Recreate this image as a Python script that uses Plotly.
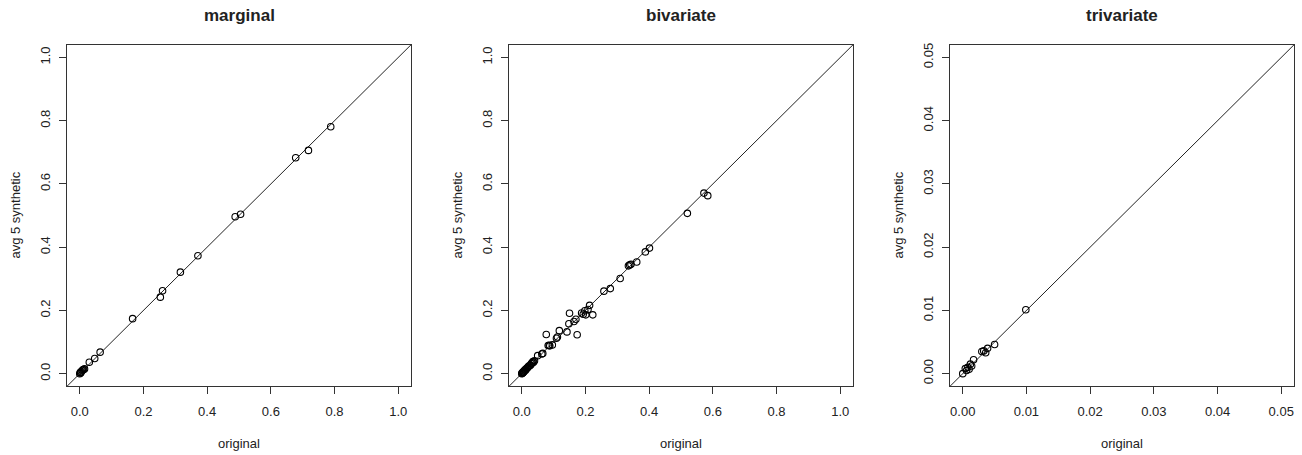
import plotly.graph_objects as go

# ---- data ----
marg_orig = [0.000, 0.002, 0.003, 0.005, 0.008, 0.010, 0.012, 0.015, 0.030, 0.047, 0.064,
             0.166, 0.253, 0.260, 0.316, 0.371, 0.488, 0.505, 0.678, 0.718, 0.788]
marg_syn = [0.000, 0.004, 0.002, 0.007, 0.010, 0.012, 0.013, 0.015, 0.036, 0.048, 0.068,
            0.174, 0.242, 0.262, 0.321, 0.373, 0.496, 0.504, 0.683, 0.706, 0.781]

biv_orig = [0.000, 0.001, 0.002, 0.003, 0.004, 0.005, 0.006, 0.007, 0.009, 0.010, 0.012,
            0.014, 0.016, 0.018, 0.020, 0.022, 0.025, 0.028, 0.030, 0.033, 0.035, 0.037,
            0.040, 0.050, 0.063, 0.066, 0.077, 0.083, 0.086, 0.088, 0.096, 0.109, 0.112,
            0.118, 0.142, 0.148, 0.150, 0.164, 0.170, 0.174, 0.188, 0.193, 0.198, 0.201,
            0.208, 0.213, 0.223, 0.258, 0.278, 0.309, 0.335, 0.339, 0.343, 0.361, 0.388,
            0.401, 0.520, 0.572, 0.584]
biv_syn = [0.000, 0.002, 0.001, 0.004, 0.003, 0.006, 0.005, 0.008, 0.009, 0.012, 0.011,
           0.015, 0.017, 0.019, 0.021, 0.024, 0.025, 0.027, 0.032, 0.034, 0.038, 0.036,
           0.041, 0.057, 0.062, 0.064, 0.124, 0.089, 0.090, 0.088, 0.091, 0.112, 0.116,
           0.136, 0.132, 0.158, 0.191, 0.165, 0.172, 0.123, 0.192, 0.188, 0.199, 0.186,
           0.203, 0.216, 0.186, 0.261, 0.269, 0.301, 0.341, 0.344, 0.346, 0.353, 0.385,
           0.397, 0.507, 0.571, 0.563]

tri_orig = [0.0000, 0.0004, 0.0006, 0.0008, 0.0010, 0.0012, 0.0014, 0.0017, 0.0030,
            0.0033, 0.0036, 0.0039, 0.0050, 0.0099]
tri_syn = [0.0000, 0.0008, 0.0005, 0.0010, 0.0007, 0.0015, 0.0012, 0.0022, 0.0035,
           0.0036, 0.0033, 0.0040, 0.0046, 0.0101]

titles = ["marginal", "bivariate", "trivariate"]
limits = [1.0, 1.0, 0.05]
tick_vals = [[0, 0.2, 0.4, 0.6, 0.8, 1.0], [0, 0.2, 0.4, 0.6, 0.8, 1.0],
             [0, 0.01, 0.02, 0.03, 0.04, 0.05]]
tick_text = [["0.0", "0.2", "0.4", "0.6", "0.8", "1.0"],
             ["0.0", "0.2", "0.4", "0.6", "0.8", "1.0"],
             ["0.00", "0.01", "0.02", "0.03", "0.04", "0.05"]]
x_label = "original"
y_label = "avg 5 synthetic"

W, H = 1302, 455
box_left = [67, 509, 950]
box_w = 344
box_top, box_bot = 43, 386

FONT = "Liberation Sans, Arial, sans-serif"
TXT = "#222222"

fig = go.Figure()
series = [(marg_orig, marg_syn), (biv_orig, biv_syn), (tri_orig, tri_syn)]
for i, (xo, ys) in enumerate(series):
    ax = "" if i == 0 else str(i + 1)
    lim = limits[i]
    lo, hi = -0.04 * lim, 1.04 * lim
    fig.add_trace(go.Scatter(x=[lo, hi], y=[lo, hi], mode="lines",
                             line=dict(color="#222222", width=1),
                             xaxis="x" + ax, yaxis="y" + ax, showlegend=False,
                             hoverinfo="skip"))
    fig.add_trace(go.Scatter(x=xo, y=ys, mode="markers",
                             marker=dict(symbol="circle-open", size=6.5, color="black",
                                         line=dict(width=1.1, color="black")),
                             xaxis="x" + ax, yaxis="y" + ax, showlegend=False))
    dom_x = [box_left[i] / W, (box_left[i] + box_w) / W]
    dom_y = [1 - box_bot / H, 1 - box_top / H]
    common = dict(showline=True, mirror=True, linecolor="#333333", linewidth=1,
                  ticks="outside", ticklen=7, tickwidth=1, tickcolor="#333333",
                  showgrid=False, zeroline=False, range=[lo, hi],
                  tickvals=tick_vals[i], ticktext=tick_text[i],
                  tickfont=dict(family=FONT, size=13, color=TXT))
    fig.update_layout(**{
        "xaxis" + ax: dict(domain=dom_x, anchor="y" + ax, ticklabelstandoff=6, **common),
        "yaxis" + ax: dict(domain=dom_y, anchor="x" + ax, tickangle=-90,
                           ticklabelstandoff=4, **common),
    })
    fig.add_annotation(text="<b>" + titles[i] + "</b>", xref="x" + ax + " domain",
                       yref="y" + ax + " domain", x=0.5, y=1, yshift=29,
                       xanchor="center", yanchor="middle", showarrow=False,
                       font=dict(family=FONT, size=17, color=TXT))
    fig.add_annotation(text=x_label, xref="x" + ax + " domain", yref="y" + ax + " domain",
                       x=0.5, y=0, yshift=-57, xanchor="center", yanchor="middle",
                       showarrow=False, font=dict(family=FONT, size=13, color=TXT))
    fig.add_annotation(text=y_label, xref="x" + ax + " domain", yref="y" + ax + " domain",
                       x=0, y=0.5, xshift=-51, xanchor="center", yanchor="middle",
                       textangle=-90, showarrow=False,
                       font=dict(family=FONT, size=13, color=TXT))

fig.update_layout(width=W, height=H, margin=dict(l=0, r=0, t=0, b=0),
                  paper_bgcolor="white", plot_bgcolor="white", showlegend=False)
fig.write_html("out.html", config={"displayModeBar": False},
               post_script="document.body.style.margin='0px';document.body.style.overflow='hidden';")
